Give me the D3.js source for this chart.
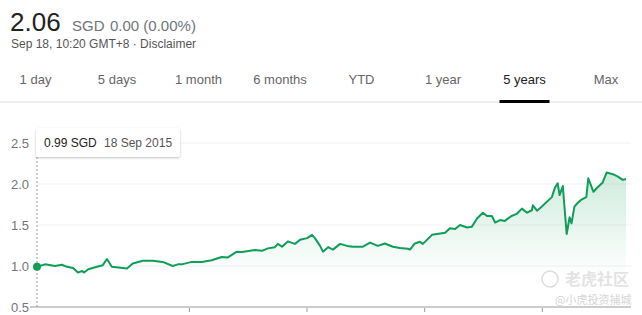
<!DOCTYPE html>
<html>
<head>
<meta charset="utf-8">
<script src="https://cdn.jsdelivr.net/npm/d3@7"></script>
<style>
  body { margin: 0; background: #fff; }
  svg { display: block; font-family: Arial, "Liberation Sans", sans-serif; }
</style>
</head>
<body>
<div id="chart"></div>
<script>
// price series (SGD)
var dates = [
  "2015-09-18", "2015-10-13", "2015-11-13", "2015-12-04", "2015-12-20", "2016-01-08",
  "2016-01-23", "2016-02-05", "2016-02-11", "2016-02-24", "2016-03-22", "2016-04-09",
  "2016-04-22", "2016-05-07", "2016-06-10", "2016-06-23", "2016-07-11", "2016-08-11",
  "2016-09-11", "2016-10-12", "2016-11-12", "2016-11-28", "2016-12-10", "2017-01-10",
  "2017-02-10", "2017-03-13", "2017-04-13", "2017-05-02", "2017-05-30", "2017-06-15",
  "2017-07-25", "2017-08-16", "2017-09-03", "2017-09-25", "2017-10-04", "2017-10-17",
  "2017-11-04", "2017-11-26", "2017-12-12", "2018-01-03", "2018-01-18", "2018-01-27",
  "2018-02-12", "2018-02-21", "2018-03-09", "2018-03-24", "2018-04-15", "2018-05-07",
  "2018-05-25", "2018-06-25", "2018-07-17", "2018-08-10", "2018-09-01", "2018-09-26",
  "2018-10-18", "2018-11-12", "2018-11-18", "2018-12-03", "2018-12-19", "2018-12-28",
  "2019-01-25", "2019-02-10", "2019-03-07", "2019-03-22", "2019-04-07", "2019-04-22",
  "2019-05-14", "2019-05-29", "2019-06-14", "2019-07-02", "2019-07-15", "2019-07-30",
  "2019-08-09", "2019-08-24", "2019-09-08", "2019-09-29", "2019-10-15", "2019-10-31",
  "2019-11-16", "2019-12-01", "2019-12-04", "2019-12-17", "2020-01-01", "2020-01-17",
  "2020-02-01", "2020-02-10", "2020-02-19", "2020-02-25", "2020-03-06", "2020-03-12",
  "2020-03-18", "2020-03-27", "2020-04-02", "2020-04-11", "2020-04-20", "2020-05-03",
  "2020-05-18", "2020-05-24", "2020-06-09", "2020-06-22", "2020-07-07", "2020-07-20",
  "2020-08-08", "2020-08-24", "2020-09-08", "2020-09-18"
];
var prices = [
  0.99, 1.02, 1.00, 1.015, 0.99, 0.975,
  0.92, 0.94, 0.92, 0.96, 0.99, 1.01,
  1.085, 0.99, 0.975, 0.97, 1.03, 1.065,
  1.065, 1.05, 1.00, 1.02, 1.02, 1.05,
  1.05, 1.07, 1.11, 1.105, 1.175, 1.17,
  1.195, 1.185, 1.215, 1.23, 1.27, 1.235,
  1.30, 1.27, 1.32, 1.34, 1.38, 1.34,
  1.245, 1.175, 1.23, 1.20, 1.27, 1.245,
  1.235, 1.235, 1.285, 1.245, 1.275, 1.235,
  1.22, 1.21, 1.20, 1.275, 1.295, 1.27,
  1.38, 1.39, 1.405, 1.46, 1.45, 1.50,
  1.47, 1.48, 1.58, 1.65, 1.61, 1.61,
  1.53, 1.56, 1.55, 1.61, 1.635, 1.70,
  1.65, 1.68, 1.74, 1.675, 1.725, 1.785,
  1.84, 1.95, 2.01, 1.865, 1.975, 1.68,
  1.39, 1.595, 1.52, 1.725, 1.765, 1.81,
  1.84, 2.07, 1.905, 1.96, 2.015, 2.14,
  2.12, 2.09, 2.05, 2.06
];
var yTicks = [0.5, 1.0, 1.5, 2.0, 2.5];
var xTicks = ["2017-01-01", "2018-01-01", "2019-01-01", "2020-01-01"];
var tabs = ["1 day", "5 days", "1 month", "6 months", "YTD", "1 year", "5 years", "Max"];
var activeTab = "5 years";

var width = 642, height = 315;
var green = "#0f9d58";
var parse = d3.timeParse("%Y-%m-%d");

var data = dates.map(function (d, i) {
  return { date: parse(d), price: prices[i] };
});

var svg = d3.select("#chart").append("svg")
  .attr("width", width)
  .attr("height", height);

svg.append("rect").attr("width", width).attr("height", height).attr("fill", "#fff");

// header
var head = svg.append("text").attr("y", 31);
head.append("tspan").attr("x", 10).attr("font-size", 26).attr("fill", "#222").text("2.06");
head.append("tspan").attr("x", 72).attr("font-size", 15).attr("fill", "#70757a").text("SGD");
head.append("tspan").attr("x", 110).attr("font-size", 15).attr("fill", "#70757a").text("0.00 (0.00%)");

svg.append("text")
  .attr("x", 11).attr("y", 48)
  .attr("font-size", 12)
  .attr("fill", "#555")
  .text("Sep 18, 10:20 GMT+8 \u00b7 Disclaimer");

// range tabs
var tabX = d3.scalePoint().domain(tabs).range([35.5, 606]);

svg.selectAll(".tab")
  .data(tabs)
  .enter()
  .append("text")
  .attr("class", "tab")
  .attr("x", function (d) { return tabX(d); })
  .attr("y", 84)
  .attr("text-anchor", "middle")
  .attr("font-size", 13)
  .attr("fill", function (d) { return d == activeTab ? "#222" : "#666"; })
  .text(function (d) { return d; });

svg.append("line")
  .attr("x1", 0).attr("x2", width)
  .attr("y1", 102).attr("y2", 102)
  .attr("stroke", "#e0e0e0");

svg.append("rect")
  .attr("x", tabX(activeTab) - 25).attr("y", 100)
  .attr("width", 50).attr("height", 3)
  .attr("fill", "#000");

// scales
var x = d3.scaleTime()
  .domain([data[0].date, data[data.length - 1].date])
  .range([37, 626]);
var y = d3.scaleLinear().domain([0.5, 2.5]).range([307, 143]);

// grid
svg.selectAll(".grid")
  .data(yTicks.slice(1))
  .enter()
  .append("line")
  .attr("x1", 37).attr("x2", 631)
  .attr("y1", function (d) { return y(d); })
  .attr("y2", function (d) { return y(d); })
  .attr("stroke", "#f1f1f1");

svg.selectAll(".ylab")
  .data(yTicks)
  .enter()
  .append("text")
  .attr("x", 29)
  .attr("y", function (d) { return y(d) + 5; })
  .attr("text-anchor", "end")
  .attr("font-size", 13)
  .attr("fill", "#70757a")
  .text(function (d) { return d.toFixed(1); });

// watermark
svg.append("circle").attr("cx", 550).attr("cy", 279).attr("r", 8)
  .attr("fill", "none").attr("stroke", "#ddd").attr("stroke-width", 1.5);
svg.append("text")
  .attr("x", 565).attr("y", 285)
  .attr("font-family", "'Noto Sans CJK SC', sans-serif")
  .attr("font-size", 16).attr("font-weight", "bold")
  .attr("fill", "#e3e3e3")
  .text("老虎社区");
svg.append("text")
  .attr("x", 555).attr("y", 304)
  .attr("font-family", "'Noto Sans CJK SC', sans-serif")
  .attr("font-size", 11)
  .attr("fill", "#d6d6d6")
  .text("@小虎投资捕城");

// area + line
var defs = svg.append("defs");
var grad = defs.append("linearGradient")
  .attr("id", "fade")
  .attr("gradientUnits", "userSpaceOnUse")
  .attr("x1", 0).attr("x2", 0)
  .attr("y1", y(2.15)).attr("y2", y(0.85));
grad.append("stop").attr("offset", "0%").attr("stop-color", green).attr("stop-opacity", 0.2);
grad.append("stop").attr("offset", "100%").attr("stop-color", green).attr("stop-opacity", 0);

var area = d3.area()
  .x(function (d) { return x(d.date); })
  .y0(y(0.5))
  .y1(function (d) { return y(d.price); });

var line = d3.line()
  .x(function (d) { return x(d.date); })
  .y(function (d) { return y(d.price); });

svg.append("path")
  .datum(data)
  .attr("d", area)
  .attr("fill", "url(#fade)");

// x axis
var xAxis = d3.axisBottom(x)
  .tickValues(xTicks.map(parse))
  .tickSize(5)
  .tickFormat("");

var gx = svg.append("g")
  .attr("transform", "translate(0," + y(0.5) + ")")
  .call(xAxis);
gx.select(".domain").remove();
gx.selectAll(".tick line").attr("stroke", "#999");

svg.append("line")
  .attr("x1", 30).attr("x2", 631)
  .attr("y1", y(0.5)).attr("y2", y(0.5))
  .attr("stroke", "#ccc").attr("stroke-width", 2);

svg.append("path")
  .datum(data)
  .attr("d", line)
  .attr("fill", "none")
  .attr("stroke", green)
  .attr("stroke-width", 2)
  .attr("stroke-linejoin", "round");

// hover marker at the first point
var first = data[0];
svg.append("line")
  .attr("x1", x(first.date)).attr("x2", x(first.date))
  .attr("y1", 157).attr("y2", y(0.5))
  .attr("stroke", "#999")
  .attr("stroke-dasharray", "2,2");

svg.append("circle")
  .attr("cx", x(first.date)).attr("cy", y(first.price))
  .attr("r", 4)
  .attr("fill", green);

var shadow = defs.append("filter").attr("id", "shadow")
  .attr("x", "-10%").attr("y", "-20%").attr("width", "120%").attr("height", "160%");
shadow.append("feDropShadow")
  .attr("dx", 0).attr("dy", 1).attr("stdDeviation", 1.2)
  .attr("flood-color", "#000").attr("flood-opacity", 0.25);

svg.append("rect")
  .attr("x", 36).attr("y", 128)
  .attr("width", 144).attr("height", 29)
  .attr("rx", 2)
  .attr("fill", "#fff")
  .attr("filter", "url(#shadow)");

var tip = svg.append("text").attr("y", 147).attr("font-size", 12);
tip.append("tspan").attr("x", 44).attr("fill", "#222").text(first.price.toFixed(2) + " SGD");
tip.append("tspan").attr("x", 104).attr("fill", "#555").text(d3.timeFormat("%-d %b %Y")(first.date));
</script>
</body>
</html>
